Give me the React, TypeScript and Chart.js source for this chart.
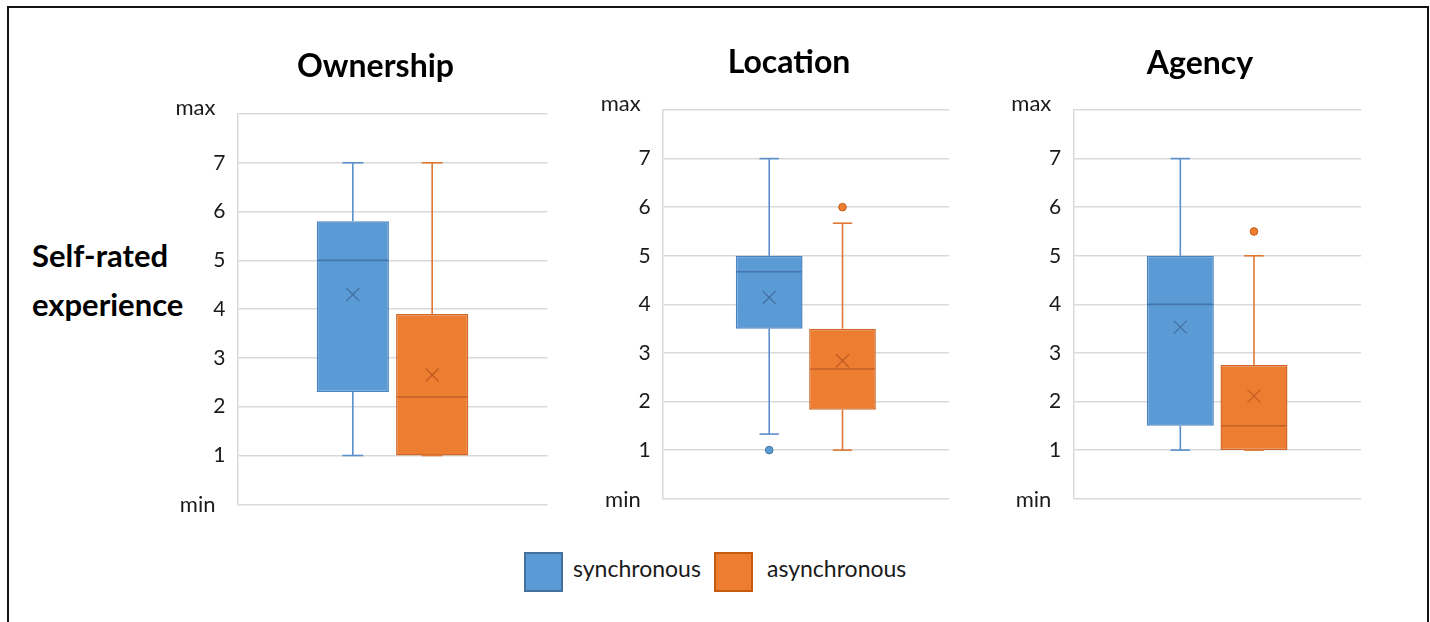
import React, { useEffect, useRef } from 'react';
import { Chart, registerables } from 'chart.js';

Chart.register(...registerables);

// ---------- data ----------
const categories = ['Ownership', 'Location', 'Agency'];
const seriesNames = ['synchronous', 'asynchronous'];
const yTickLabels = ['min', '1', '2', '3', '4', '5', '6', '7', 'max'];
const yAxisTitle = ['Self-rated', 'experience'];

const syncMin = [1, 1.33, 1];
const syncQ1 = [2.3, 3.5, 1.5];
const syncMedian = [5, 4.67, 4];
const syncQ3 = [5.8, 5, 5];
const syncMax = [7, 7, 7];
const syncMean = [4.3, 4.14, 3.53];
const syncOutliers: number[][] = [[], [1], []];

const asyncMin = [1, 1, 1];
const asyncQ1 = [1, 1.83, 1];
const asyncMedian = [2.2, 2.67, 1.5];
const asyncQ3 = [3.9, 3.5, 2.75];
const asyncMax = [7, 5.67, 5];
const asyncMean = [2.65, 2.84, 2.11];
const asyncOutliers: number[][] = [[], [6], [5.5]];

// ---------- styles ----------
const FONT = 'Lato, "Noto Sans", "DejaVu Sans", sans-serif';
const STYLE = [
  { fill: '#5B9BD5', border: '#4A84C0', line: '#5A8FCB', median: '#4475AA', mark: '#44719F', outline: '#41719C' },
  { fill: '#ED7D31', border: '#D2692A', line: '#E07835', median: '#C4612A', mark: '#BF5B22', outline: '#C55A11' },
];

const PANELS = [
  { left: 150, w: 438, h: 514, padL: 53.5, padR: 40.5, padB: 9.7, axisW: 34, titleTop: 47.3, titleBottom: 28.3 },
  { left: 580, w: 399, h: 509, padL: 49, padR: 30, padB: 10.3, axisW: 33.7, titleTop: 43.3, titleBottom: 28.3 },
  { left: 1000, w: 391, h: 509, padL: 39, padR: 30, padB: 10.3, axisW: 34.3, titleTop: 44.2, titleBottom: 27.4 },
];

type Stat = { min: number; q1: number; med: number; q3: number; max: number; mean: number; out: number[]; st: typeof STYLE[0] };

function makeBoxPlugin(stats: Stat[]) {
  return {
    id: 'boxExtras',
    afterDatasetsDraw(chart: any) {
      const { ctx } = chart;
      const y = chart.scales.y;
      stats.forEach((s, i) => {
        const el = chart.getDatasetMeta(i).data[0];
        if (!el) return;
        const x = el.x;
        const w = el.width;
        const cap = w * 0.29;
        const py = (v: number) => y.getPixelForValue(v);
        const line = (x1: number, y1: number, x2: number, y2: number) => {
          ctx.beginPath();
          ctx.moveTo(x1, y1);
          ctx.lineTo(x2, y2);
          ctx.stroke();
        };
        ctx.save();
        // whiskers
        ctx.strokeStyle = s.st.line;
        ctx.lineWidth = 1.6;
        line(x, py(s.q3), x, py(s.max));
        line(x - cap / 2, py(s.max), x + cap / 2, py(s.max));
        line(x, py(s.q1), x, py(s.min));
        line(x - cap / 2, py(s.min), x + cap / 2, py(s.min));
        // median
        ctx.strokeStyle = s.st.median;
        ctx.lineWidth = 1.6;
        line(x - w / 2 + 1, py(s.med), x + w / 2 - 1, py(s.med));
        // mean marker (x)
        const m = 6.5;
        const my = py(s.mean);
        ctx.strokeStyle = s.st.mark;
        ctx.lineWidth = 1.2;
        line(x - m, my - m, x + m, my + m);
        line(x - m, my + m, x + m, my - m);
        // outliers
        s.out.forEach((v) => {
          ctx.beginPath();
          ctx.arc(x, py(v), 3.8, 0, Math.PI * 2);
          ctx.fillStyle = s.st.fill;
          ctx.fill();
          ctx.strokeStyle = s.st.outline;
          ctx.lineWidth = 1;
          ctx.stroke();
        });
        ctx.restore();
      });
    },
    afterDraw(chart: any) {
      const { ctx, chartArea } = chart;
      const y = chart.scales.y;
      ctx.save();
      ctx.font = `22px ${FONT}`;
      ctx.fillStyle = '#1a1a1a';
      ctx.textAlign = 'right';
      ctx.textBaseline = 'alphabetic';
      const x = chartArea.left - 22;
      ctx.fillText(yTickLabels[8], x, y.getPixelForValue(8) + 1);
      ctx.fillText(yTickLabels[0], x, y.getPixelForValue(0) + 8);
      ctx.restore();
    },
  };
}

function Panel({ idx }: { idx: number }) {
  const ref = useRef<HTMLCanvasElement>(null);
  const p = PANELS[idx];
  useEffect(() => {
    const stats: Stat[] = [
      { min: syncMin[idx], q1: syncQ1[idx], med: syncMedian[idx], q3: syncQ3[idx], max: syncMax[idx], mean: syncMean[idx], out: syncOutliers[idx], st: STYLE[0] },
      { min: asyncMin[idx], q1: asyncQ1[idx], med: asyncMedian[idx], q3: asyncQ3[idx], max: asyncMax[idx], mean: asyncMean[idx], out: asyncOutliers[idx], st: STYLE[1] },
    ];
    const chart = new Chart(ref.current as HTMLCanvasElement, {
      type: 'bar',
      data: {
        labels: [categories[idx]],
        datasets: stats.map((s, i) => ({
          label: seriesNames[i],
          data: [[s.q1, s.q3]] as any,
          backgroundColor: s.st.fill,
          borderColor: s.st.border,
          borderWidth: 1.5,
          borderSkipped: false,
          categoryPercentage: 0.512,
          barPercentage: 0.91,
        })),
      },
      options: {
        responsive: false,
        animation: false,
        devicePixelRatio: window.devicePixelRatio || 1,
        layout: { padding: { left: p.padL, right: p.padR, top: 0, bottom: p.padB } },
        plugins: {
          legend: { display: false },
          tooltip: { enabled: false },
          title: {
            display: true,
            text: categories[idx],
            color: '#000',
            font: { family: FONT, size: 32, weight: 'bold' },
            padding: { top: p.titleTop, bottom: p.titleBottom },
          },
        },
        scales: {
          x: { display: false },
          y: {
            type: 'linear',
            min: 0,
            max: 8,
            ticks: {
              stepSize: 1,
              padding: 12,
              color: '#1a1a1a',
              font: { family: FONT, size: 21 },
              callback: (v: any) => (v === 0 || v === 8 ? '' : yTickLabels[v]),
            },
            grid: { color: '#D9D9D9', lineWidth: 1.5, drawTicks: false },
            border: { display: true, color: '#D9D9D9', width: 1.5 },
            afterFit: (scale: any) => {
              scale.width = p.axisW;
              scale.paddingTop = 0;
              scale.paddingBottom = 0;
            },
          },
        },
      } as any,
      plugins: [makeBoxPlugin(stats)],
    });
    return () => chart.destroy();
  }, [idx]);
  return (
    <canvas
      ref={ref}
      width={p.w}
      height={p.h}
      style={{ position: 'absolute', left: p.left, top: 0, width: p.w, height: p.h }}
    />
  );
}

export default function App() {
  const legendText: React.CSSProperties = {
    position: 'absolute',
    top: 548,
    fontFamily: FONT,
    fontSize: 23,
    lineHeight: '40px',
    color: '#1a1a1a',
    whiteSpace: 'nowrap',
  };
  const square = (left: number, st: typeof STYLE[0]): React.CSSProperties => ({
    position: 'absolute',
    left,
    top: 552,
    width: 39,
    height: 40,
    boxSizing: 'border-box',
    background: st.fill,
    border: `2px solid ${st.outline}`,
  });
  return (
    <div style={{ position: 'absolute', left: 0, top: 0, width: 1430, height: 622, background: '#fff', overflow: 'hidden' }}>
      <div
        style={{
          position: 'absolute',
          left: 7,
          top: 6,
          width: 1422,
          height: 700,
          boxSizing: 'border-box',
          border: '2.5px solid #141414',
        }}
      />
      <div
        style={{
          position: 'absolute',
          left: 32,
          top: 231,
          fontFamily: FONT,
          fontWeight: 'bold',
          fontSize: 31,
          lineHeight: '49px',
          color: '#000',
          whiteSpace: 'nowrap',
        }}
      >
        {yAxisTitle[0]}
        <br />
        {yAxisTitle[1]}
      </div>
      {PANELS.map((_, i) => (
        <Panel key={i} idx={i} />
      ))}
      <div style={square(524, STYLE[0])} />
      <div style={{ ...legendText, left: 573 }}>{seriesNames[0]}</div>
      <div style={square(714, STYLE[1])} />
      <div style={{ ...legendText, left: 767 }}>{seriesNames[1]}</div>
    </div>
  );
}
